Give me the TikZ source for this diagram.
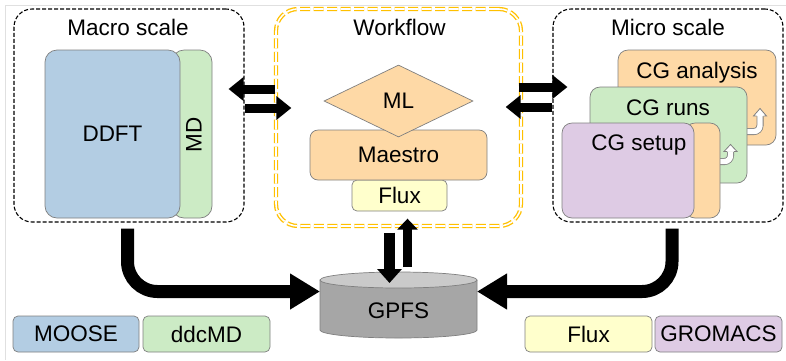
\documentclass[tikz,border=0pt]{standalone}
\usepackage{fontspec}
\setmainfont{Liberation Sans}
\usetikzlibrary{arrows.meta,shapes.geometric,calc}

\definecolor{pblue}{HTML}{B3CDE3}
\definecolor{pgreen}{HTML}{CCEBC5}
\definecolor{ppeach}{HTML}{FED9A6}
\definecolor{pyellow}{HTML}{FFFFCC}
\definecolor{ppurple}{HTML}{DECBE4}
\definecolor{edge}{HTML}{7F7F7F}
\definecolor{wfgold}{HTML}{FFC000}
\definecolor{diskbody}{HTML}{A6A6A6}
\definecolor{disktop}{HTML}{CACACA}

\begin{document}
\begin{tikzpicture}[x=1pt,y=-1pt,
  font=\fontsize{22.5}{27}\selectfont,
  scalebox/.style={draw=black, line width=1.1pt, dash pattern=on 4pt off 2pt,
    rounded corners=18pt, inner sep=0pt},
  wfbox/.style={draw=wfgold, line width=1.3pt, double=white, double distance=1.6pt,
    dash pattern=on 10pt off 3.5pt, rounded corners=22pt, inner sep=0pt},
  comp/.style={draw=edge, line width=0.7pt, rounded corners=10pt, inner sep=0pt},
  legendbox/.style={comp, rounded corners=5pt, minimum width=126pt, minimum height=36pt},
  fatarrow/.style={line width=9pt, -{Triangle[length=15pt,width=23pt]}},
  bigarrow/.style={line width=13pt, rounded corners=30pt,
    -{Triangle[length=30pt,width=34pt]}},
  turnout/.style={draw=edge, line width=7pt, rounded corners=6pt},
  turnin/.style={draw=white, line width=5.4pt, rounded corners=6pt},
  turnhead/.style={draw=edge, line width=0.8pt, fill=white, line join=miter},
  title/.style={anchor=base}
]
\useasboundingbox (0,0) rectangle (786,360);

% faint page frame
\draw[black!12, line width=1pt] (5.5,360) -- (5.5,5.5) -- (786,5.5);

% ---------- macro scale ----------
\node[scalebox, minimum width=230pt, minimum height=213pt] (macro) at (129,115.5) {};
\node[title] at (128,35) {Macro scale};
\node[comp, rounded corners=12pt, fill=pgreen, minimum width=40pt, minimum height=168pt] (md) at (192,134) {};
\node[comp, rounded corners=12pt, fill=pblue, minimum width=135pt, minimum height=168pt] (ddft) at (112.5,134) {DDFT};
\node[rotate=90] (mdlabel) at (194,135) {MD};

% ---------- workflow ----------
\node[wfbox, minimum width=245pt, minimum height=217pt] (workflow) at (398.5,117.5) {};
\node[title] at (399.5,35) {Workflow};
\node[comp, rounded corners=5pt, fill=pyellow, minimum width=95pt, minimum height=31pt] (flux) at (399.5,195.5) {Flux};
\node[comp, rounded corners=8pt, fill=ppeach, minimum width=177pt, minimum height=50pt] (maestro) at (398.5,155) {Maestro};
\node[diamond, draw=edge, fill=ppeach, line width=0.7pt, inner sep=0pt, aspect=2.07,
  minimum width=149pt, minimum height=72pt] (ml) at (398.5,101) {ML};

% ---------- micro scale ----------
\node[scalebox, minimum width=230pt, minimum height=213pt] (micro) at (668,115.5) {};
\node[title] at (668,35) {Micro scale};

\node[comp, fill=ppeach, minimum width=158pt, minimum height=95pt] (cga) at (697,97.5) {};
\node[title] at (697,78) {CG analysis};
% loop-back arrow inside the analysis card
\draw[turnout] (740,131.5) -- (760,131.5) -- (760,116);
\draw[turnin] (740,131.5) -- (760,131.5) -- (760,115.9);
\draw[turnhead] (763.5,116) -- (766.5,116) -- (760,108.5) -- (753.5,116) -- (756.5,116);

\node[comp, fill=pgreen, minimum width=157pt, minimum height=96pt] (cgr) at (668.5,135) {};
\node[title] at (668,115) {CG runs};
% loop-back arrow inside the runs card
\draw[turnout] (712,161.5) -- (730.5,161.5) -- (730.5,151.5);
\draw[turnin] (712,161.5) -- (730.5,161.5) -- (730.5,151.4);
\draw[turnhead] (734,151.5) -- (737,151.5) -- (730.5,144.5) -- (724,151.5) -- (727,151.5);

\node[comp, fill=ppeach, minimum width=35pt, minimum height=95pt] (setupside) at (702.5,170.5) {};
\node[comp, fill=ppurple, minimum width=132pt, minimum height=95pt] (cgs) at (628,170.5) {};
\node[title] at (639,150) {CG setup};

% ---------- storage ----------
\draw[draw=edge, fill=diskbody, line width=0.7pt]
  (320,280) -- (320,330) arc[start angle=180, end angle=0, x radius=78.5, y radius=8]
  -- (477,280) -- cycle;
\draw[draw=edge, fill=disktop, line width=0.7pt] (398.5,280) ellipse [x radius=78.5, y radius=8];
\node (gpfs) at (398.5,311) {GPFS};
\coordinate (diskL) at (320,291.5);
\coordinate (diskR) at (477,291.5);
\coordinate (diskIn) at (389.5,283);
\coordinate (diskOut) at (407.5,267);

% ---------- data flow ----------
\draw[fatarrow] (workflow.west |- 0,89) -- ($(macro.east |- 0,89)+(-16,0)$);
\draw[fatarrow] (macro.east |- 0,108) -- ($(workflow.west |- 0,108)+(16,0)$);
\draw[fatarrow] ($(workflow.east |- 0,87)+(-3,0)$) -- ($(micro.west |- 0,87)+(15,0)$);
\draw[fatarrow] (micro.west |- 0,107) -- ($(workflow.east |- 0,107)+(-16,0)$);

\draw[line width=11pt, -{Triangle[length=14pt,width=24pt]}] ($(workflow.south)+(-9,6)$) -- (diskIn);
\draw[line width=9pt, -{Triangle[length=11pt,width=20pt]}] (diskOut) -- ($(workflow.south)+(9,-8)$);

\draw[bigarrow] ($(macro.south)+(-1.5,6)$) |- (diskL);
\draw[bigarrow] ($(micro.south)+(4,6)$) |- (diskR);

% ---------- legend ----------
\node[legendbox, fill=pblue] (moose) at (76,334) {MOOSE};
\node[legendbox, fill=pgreen, minimum width=127pt] (ddcmd) at (206.5,334) {ddcMD};
\node[legendbox, fill=pyellow, minimum width=127pt] (fluxkey) at (588.5,334) {Flux};
\node[legendbox, fill=ppurple, minimum width=127pt] (gromacs) at (718.5,334) {GROMACS};
\end{tikzpicture}
\end{document}
